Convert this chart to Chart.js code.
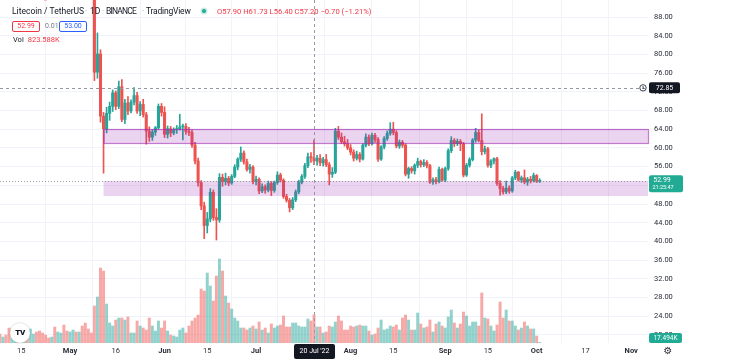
<!DOCTYPE html>
<html>
<head>
<meta charset="utf-8">
<script src="https://cdn.jsdelivr.net/npm/chart.js@4.4.1/dist/chart.umd.min.js"></script>
<style>
  body { margin: 0; background: #fff; }
  #wrap { position: relative; width: 730px; height: 361px; font-family: Roboto, "Noto Sans", sans-serif; overflow: hidden; }
  canvas { position: absolute; left: 0; top: 0; }
  .t { position: absolute; white-space: nowrap; top: 6px; font-size: 8.5px; line-height: 10px; color: #131722; }
  .sep { position: absolute; top: 6px; font-size: 8px; line-height: 10px; color: #9598a1; }
  .dot { position: absolute; left: 202px; top: 9px; width: 4px; height: 4px; border-radius: 50%; background: #22ab94; box-shadow: 0 0 0 1.5px rgba(34,171,148,0.25); }
  .ohlc { position: absolute; left: 217px; top: 7px; white-space: nowrap; color: #f23645; font-size: 7.6px; line-height: 9px; }
  .box { position: absolute; top: 21px; height: 9px; font-size: 7px; line-height: 9px; text-align: center; border-radius: 2px; }
  .vol { position: absolute; left: 13px; top: 35px; white-space: nowrap; color: #131722; font-size: 7.5px; line-height: 10px; }
  .vol span { color: #f23645; margin-left: 4px; }
  #logo { position: absolute; left: 10px; top: 323px; width: 20px; height: 20px; border-radius: 50%; background: #fff; box-shadow: 0 0 2px rgba(0,0,0,0.25); font: 900 8px/20px Roboto, sans-serif; text-align: center; color: #131722; letter-spacing: -0.5px; }
</style>
</head>
<body>
<div id="wrap">
  <canvas id="myChart" width="730" height="361"></canvas>
  <div class="t" style="left:12px;">Litecoin / TetherUS</div>
  <div class="sep" style="left:85px;">·</div>
  <div class="t" style="left:90px;">1D</div>
  <div class="sep" style="left:102px;">·</div>
  <div class="t" style="left:106px;letter-spacing:-0.8px;">BINANCE</div>
  <div class="sep" style="left:142px;">·</div>
  <div class="t" style="left:146px;letter-spacing:-0.2px;">TradingView</div>
  <div class="dot"></div>
  <div class="ohlc">O57.90 H61.73 L56.40 C57.20 −0.70 (−1.21%)</div>
  <div class="box" style="left:12px;width:26px;border:1px solid #f23645;color:#f23645;">52.99</div>
  <div class="vol" style="left:45px;top:21px;font-size:7px;color:#787b86;">0.01</div>
  <div class="box" style="left:59px;width:26px;border:1px solid #2962ff;color:#2962ff;">53.00</div>
  <div class="vol">Vol<span>823.588K</span></div>
  <div id="logo">TV</div>
</div>
<script>
// LTCUSDT daily, 2022-04-08 .. 2022-10-02 (one entry per day)
const firstDate = "2022-04-08";

const open = [
  118.5, 114.6, 116.4, 113.1, 105.0, 106.9, 111.2, 108.1, 108.9, 109.4,
  105.8, 107.6, 109.3, 108.2, 104.9, 102.3, 102.2, 101.5, 103.4, 96.8,
  99.6, 101.4, 97.9, 95.1, 98.2, 98.8, 96.7, 104.1, 98.6, 97.2, 95.3,
  93.6, 76.2, 80.1, 66.8, 64.1, 67.4, 68.9, 71.8, 68.9, 73.1,
  66.1, 69.6, 67.9, 69.8, 71.2, 67.9, 69.3, 67.1, 63.6, 62.3,
  63.4, 64.3, 68.9, 67.6, 62.9, 64.1, 63.2, 63.9, 64.0, 64.5,
  64.6, 63.5, 63.3, 60.6, 57.2, 52.6, 47.6, 43.4, 44.8, 50.5,
  45.1, 44.6, 53.7, 52.8, 53.5, 52.5, 53.9, 55.9, 57.6, 58.9,
  57.0, 55.4, 55.9, 52.8, 53.3, 50.8, 51.7, 51.0, 52.4, 50.9,
  52.6, 54.2, 53.1, 49.6, 48.8, 47.2, 48.9, 50.6, 52.7, 53.9,
  56.2, 58.1, 57.9, 57.2, 57.8, 56.8, 57.5, 56.4, 54.4, 54.8,
  63.6, 62.3, 61.3, 60.9, 60.0, 59.1, 57.8, 58.6, 57.6, 60.6,
  62.3, 60.9, 62.7, 61.8, 57.6, 60.2, 62.0, 63.1, 64.0, 63.3,
  60.4, 61.2, 60.6, 54.4, 55.6, 55.1, 56.3, 57.1, 56.4, 56.9,
  56.2, 52.7, 53.2, 52.8, 55.4, 53.1, 55.6, 59.4, 61.6, 60.9,
  61.4, 60.9, 54.2, 56.3, 57.5, 61.7, 63.3, 61.6, 59.2, 59.8,
  56.3, 57.2, 57.7, 52.4, 51.3, 50.6, 51.4, 50.8, 53.6, 54.8,
  53.1, 53.6, 52.7, 53.3, 53.0, 54.1, 52.85
];
const high = [
  119.6, 117.0, 117.8, 113.6, 108.9, 111.7, 112.2, 109.6, 110.1, 110.0,
  108.2, 109.9, 112.0, 111.8, 105.6, 103.7, 103.9, 103.8, 104.4, 100.3,
  102.6, 102.0, 99.1, 98.7, 100.0, 99.4, 104.6, 104.8, 99.5, 98.0, 96.0,
  94.8, 84.6, 81.0, 67.6, 68.7, 69.8, 72.4, 72.2, 74.3, 74.6,
  70.4, 71.0, 70.3, 72.9, 71.9, 69.9, 70.4, 67.6, 64.5, 63.9,
  64.6, 69.4, 69.5, 68.8, 64.7, 64.6, 64.3, 64.8, 67.2, 65.1,
  65.2, 64.4, 63.8, 61.2, 57.8, 53.0, 48.4, 46.2, 51.3, 51.0,
  47.0, 54.5, 54.4, 54.6, 53.9, 54.3, 56.4, 57.9, 60.2, 59.4,
  57.6, 56.5, 56.2, 54.0, 53.6, 52.3, 52.1, 52.9, 52.8, 52.9,
  54.9, 54.6, 53.4, 50.1, 49.2, 49.4, 51.0, 53.1, 54.3, 56.7,
  58.9, 59.0, 61.73, 58.4, 58.6, 58.0, 58.6, 56.9, 55.8, 64.2,
  64.6, 63.2, 62.5, 61.8, 60.7, 59.6, 59.3, 59.0, 60.9, 63.0,
  62.8, 63.2, 63.1, 62.2, 60.5, 62.4, 63.6, 65.4, 65.5, 63.7,
  61.7, 61.6, 60.9, 55.9, 56.0, 56.6, 57.8, 57.4, 57.5, 57.3,
  56.5, 53.6, 53.7, 55.9, 55.7, 55.9, 59.8, 62.4, 62.0, 61.9,
  61.8, 61.2, 56.7, 57.9, 62.0, 64.2, 63.8, 67.3, 60.4, 60.1,
  57.5, 57.9, 58.0, 53.0, 51.8, 52.9, 51.9, 53.9, 55.2, 55.0,
  54.0, 55.3, 53.7, 53.9, 54.6, 54.3, 53.4
];
const low = [
  113.9, 113.8, 112.6, 104.2, 104.1, 105.6, 107.4, 107.2, 107.8, 105.3,
  101.9, 106.3, 107.5, 104.0, 101.5, 101.6, 100.8, 97.9, 96.2, 96.0,
  98.4, 97.1, 94.8, 94.6, 96.9, 96.2, 96.4, 97.1, 95.4, 94.3, 92.3,
  74.4, 74.9, 65.5, 54.6, 63.2, 65.9, 67.8, 68.2, 68.4, 65.6,
  65.2, 67.1, 67.5, 69.2, 67.4, 66.9, 66.6, 60.8, 61.4, 61.6,
  62.7, 64.0, 66.8, 62.2, 62.1, 62.4, 62.8, 63.1, 63.8, 61.7,
  62.9, 62.6, 60.1, 56.6, 51.8, 46.8, 40.6, 41.8, 44.2, 44.5,
  40.3, 44.1, 51.8, 52.1, 51.9, 52.2, 53.6, 55.3, 57.1, 56.5,
  55.0, 54.6, 52.3, 52.1, 50.2, 50.4, 50.3, 50.6, 49.8, 50.5,
  52.2, 52.7, 49.2, 48.4, 46.3, 46.8, 48.5, 50.2, 52.3, 53.5,
  55.8, 56.9, 56.4, 56.3, 56.2, 56.1, 56.0, 52.1, 53.7, 54.5,
  61.8, 60.9, 60.4, 59.6, 58.5, 57.2, 57.4, 57.0, 57.4, 60.2,
  60.5, 60.6, 61.2, 57.1, 57.3, 59.8, 61.6, 62.7, 62.8, 60.0,
  59.9, 60.1, 54.0, 53.5, 54.6, 54.4, 55.8, 55.9, 56.0, 55.7,
  52.4, 52.2, 52.3, 52.5, 52.9, 52.8, 55.2, 59.0, 60.3, 60.5,
  59.4, 53.8, 53.9, 55.9, 57.2, 61.2, 61.3, 58.5, 58.7, 55.9,
  55.8, 56.6, 52.0, 49.9, 50.1, 50.2, 50.3, 50.5, 53.2, 52.9,
  52.6, 52.3, 52.0, 52.5, 52.7, 52.6, 52.6
];
const close = [
  114.6, 116.4, 113.1, 105.0, 106.9, 111.2, 108.1, 108.9, 109.4, 105.8,
  107.6, 109.3, 108.2, 104.9, 102.3, 102.2, 101.5, 103.4, 96.8, 99.6,
  101.4, 97.9, 95.1, 98.2, 98.8, 96.7, 104.1, 98.6, 97.2, 95.3, 93.6,
  76.2, 80.1, 66.8, 64.1, 67.4, 68.9, 71.8, 68.9, 73.1, 66.1,
  69.6, 67.9, 69.8, 71.2, 67.9, 69.3, 67.1, 63.6, 62.3, 63.4,
  64.3, 68.9, 67.6, 62.9, 64.1, 63.2, 63.9, 64.0, 64.5, 64.6,
  63.5, 63.3, 60.6, 57.2, 52.6, 47.6, 43.4, 44.8, 50.5, 45.1,
  44.6, 53.7, 52.8, 53.5, 52.5, 53.9, 55.9, 57.6, 58.9, 57.0,
  55.4, 55.9, 52.8, 53.3, 50.8, 51.7, 51.0, 52.4, 50.9, 52.6,
  54.2, 53.1, 49.6, 48.8, 47.2, 48.9, 50.6, 52.7, 53.9, 56.2,
  58.1, 57.9, 57.2, 57.8, 56.8, 57.5, 56.4, 54.4, 54.8, 63.6,
  62.3, 61.3, 60.9, 60.0, 59.1, 57.8, 58.6, 57.6, 60.6, 62.3,
  60.9, 62.7, 61.8, 57.6, 60.2, 62.0, 63.1, 64.0, 63.3, 60.4,
  61.2, 60.6, 54.4, 55.6, 55.1, 56.3, 57.1, 56.4, 56.9, 56.2,
  52.7, 53.2, 52.8, 55.4, 53.1, 55.6, 59.4, 61.6, 60.9, 61.4,
  60.9, 54.2, 56.3, 57.5, 61.7, 63.3, 61.6, 59.2, 59.8, 56.3,
  57.2, 57.7, 52.4, 51.3, 50.6, 51.4, 50.8, 53.6, 54.8, 53.1,
  53.6, 52.7, 53.3, 53.0, 54.1, 52.85, 52.99
];
// volume in thousands of LTC
const volume = [
  265, 176, 235, 441, 412, 206, 235, 176, 176, 235,
  412, 265, 324, 353, 294, 235, 147, 176, 471, 324,
  294, 529, 353, 324, 382, 324, 324, 500, 588, 412, 294,
  1088, 1353, 2206, 2118, 1147, 588, 500, 676, 735, 735,
  676, 765, 294, 294, 647, 500, 441, 382, 735, 500,
  353, 647, 441, 647, 353, 235, 206, 176, 382, 441,
  294, 500, 647, 735, 824, 1588, 1529, 2059, 1676, 1235,
  1970, 2470, 2118, 1382, 1176, 1000, 735, 647, 441, 441,
  382, 441, 500, 412, 618, 382, 441, 294, 559, 441,
  500, 529, 794, 471, 471, 588, 588, 500, 471, 471,
  706, 647, 823.588, 471, 471, 294, 324, 500, 471, 618,
  794, 647, 382, 382, 500, 471, 500, 529, 500, 500,
  353, 235, 265, 441, 676, 382, 412, 500, 471, 529,
  382, 735, 824, 676, 382, 382, 882, 559, 441, 471,
  676, 324, 559, 618, 500, 441, 765, 971, 588, 441,
  559, 912, 794, 500, 618, 618, 500, 1471, 735, 706,
  500, 353, 529, 1206, 735, 971, 647, 647, 500, 382,
  441, 618, 500, 412, 412, 206, 17.494
];

const tickDates = ["2022-04-15", "2022-05-01", "2022-05-16", "2022-06-01", "2022-06-15", "2022-07-01", "2022-07-15",
  "2022-08-01", "2022-08-15", "2022-09-01", "2022-09-15", "2022-10-01", "2022-10-17", "2022-11-01"];
const tickLabels = ["15", "May", "16", "Jun", "15", "Jul", "15", "Aug", "15", "Sep", "15", "Oct", "17", "Nov"];
const priceTicks = [20, 24, 28, 32, 36, 40, 44, 48, 52, 56, 60, 64, 68, 72, 76, 80, 84, 88];

// drawn rectangles (price zones)
const zoneFrom = ["2022-05-12", "2022-05-12"];
const zoneTop = [64.04, 52.92];
const zoneBottom = [61.0, 49.7];

const crossDate = "2022-07-20";
const crossPrice = 72.85;
const lastPrice = 52.99;

const UP = "#26a69a";
const DOWN = "#ef5350";

let dayOf = (s) => Math.round((Date.parse(s) - Date.parse(firstDate)) / 864e5);
let monthNames = ["May", "Jun", "Jul", "Aug", "Sep", "Oct", "Nov"];

let candleColors = close.map((c, i) => c >= open[i] ? UP : DOWN);
let volColors = close.map((c, i) => c >= open[i] ? "rgba(38,166,154,0.5)" : "rgba(239,83,80,0.5)");

let tag = (ctx, x, y, w, h, bg) => {
  ctx.fillStyle = bg;
  ctx.beginPath();
  ctx.roundRect(x, y, w, h, 2);
  ctx.fill();
};

let drawings = {
  id: "drawings",
  afterDatasetsDraw(chart) {
    let { ctx, chartArea: a, scales: { x, y } } = chart;
    ctx.save();
    zoneTop.forEach((top, i) => {
      let x0 = x.getPixelForValue(dayOf(zoneFrom[i]));
      let y0 = y.getPixelForValue(top);
      let y1 = y.getPixelForValue(zoneBottom[i]);
      ctx.fillStyle = "rgba(156,39,176,0.2)";
      ctx.fillRect(x0, y0, a.right - x0, y1 - y0);
      if (i === 0) {
        ctx.strokeStyle = "rgba(156,39,176,0.6)";
        ctx.lineWidth = 1.2;
        ctx.strokeRect(x0 + 0.5, Math.round(y0) + 0.5, a.right - x0, Math.round(y1 - y0));
      }
    });

    // last price line
    let py = Math.round(y.getPixelForValue(lastPrice)) + 0.5;
    ctx.strokeStyle = "rgba(120,123,134,0.7)";
    ctx.lineWidth = 1;
    ctx.setLineDash([1, 2]);
    ctx.beginPath();
    ctx.moveTo(a.left, py);
    ctx.lineTo(a.right, py);
    ctx.stroke();

    // crosshair
    let cx = Math.round(x.getPixelForValue(dayOf(crossDate))) + 0.5;
    let cy = Math.round(y.getPixelForValue(crossPrice)) + 0.5;
    ctx.strokeStyle = "#9598a1";
    ctx.setLineDash([3, 3]);
    ctx.beginPath();
    ctx.moveTo(cx, a.top);
    ctx.lineTo(cx, a.bottom);
    ctx.moveTo(a.left, cy);
    ctx.lineTo(a.right, cy);
    ctx.stroke();
    ctx.restore();
  },
  afterDraw(chart) {
    let { ctx, chartArea: a, scales: { x, y, yv } } = chart;
    ctx.save();
    ctx.textBaseline = "middle";
    ctx.textAlign = "center";

    let cy = y.getPixelForValue(crossPrice);
    tag(ctx, a.right + 1, cy - 5.5, 31, 11, "#131722");
    ctx.fillStyle = "#fff";
    ctx.font = "7px Roboto";
    ctx.fillText(crossPrice.toFixed(2), a.right + 16.5, cy + 0.5);
    ctx.strokeStyle = "#131722";
    ctx.lineWidth = 0.8;
    ctx.beginPath();
    ctx.arc(a.right - 5, cy, 3.2, 0, Math.PI * 2);
    ctx.moveTo(a.right - 5, cy - 1.8);
    ctx.lineTo(a.right - 5, cy);
    ctx.lineTo(a.right - 3.8, cy + 0.8);
    ctx.stroke();

    let py = y.getPixelForValue(lastPrice);
    tag(ctx, a.right + 1, py - 5.5, 34, 17, "#22ab94");
    ctx.fillStyle = "#fff";
    ctx.font = "7px Roboto";
    ctx.fillText(lastPrice.toFixed(2), a.right + 14, py);
    ctx.font = "5.5px Roboto";
    ctx.fillText("21:25:47", a.right + 15, py + 7);

    let vy = Math.min(yv.getPixelForValue(volume[volume.length - 1]), a.bottom - 5);
    tag(ctx, a.right + 1, vy - 5, 33, 10, "#22ab94");
    ctx.fillStyle = "#fff";
    ctx.font = "6.5px Roboto";
    ctx.fillText(volume[volume.length - 1].toFixed(3) + "K", a.right + 17.5, vy + 0.5);

    let cx = x.getPixelForValue(dayOf(crossDate));
    tag(ctx, cx - 20, a.bottom + 1, 41, 15, "#131722");
    ctx.fillStyle = "#fff";
    ctx.font = "7px Roboto";
    ctx.fillText("20 Jul '22", cx + 0.5, a.bottom + 8.5);

    ctx.fillStyle = "#2a2e39";
    ctx.font = "10px 'DejaVu Sans'";
    ctx.fillText("⚙", 668, 351);
    ctx.restore();
  }
};

let ctx = document.getElementById("myChart");

let myChart = new Chart(ctx, {
  type: "bar",
  data: {
    datasets: [
      {
        label: "Volume",
        yAxisID: "yv",
        data: volume.map((v, i) => ({ x: i, y: v })),
        backgroundColor: volColors,
        barThickness: 2.3,
        grouped: false,
        order: 3
      },
      {
        label: "Wick",
        yAxisID: "y",
        data: low.map((l, i) => ({ x: i, y: [l, high[i]] })),
        backgroundColor: candleColors,
        barThickness: 1,
        grouped: false,
        order: 2
      },
      {
        label: "Body",
        yAxisID: "y",
        data: open.map((o, i) => ({ x: i, y: [o, close[i]] })),
        backgroundColor: candleColors,
        barThickness: 2.4,
        minBarLength: 1,
        grouped: false,
        order: 1
      }
    ]
  },
  options: {
    responsive: false,
    animation: false,
    events: [],
    layout: { padding: 0 },
    plugins: { legend: { display: false }, tooltip: { enabled: false } },
    scales: {
      x: {
        type: "linear",
        min: 0.05,
        max: 212.5,
        offset: false,
        grid: { color: "#f0f3fa", drawTicks: false },
        border: { display: false },
        afterBuildTicks: (s) => { s.ticks = tickDates.map(d => ({ value: dayOf(d) })); },
        afterFit: (s) => { s.height = 18; s.paddingLeft = 0; s.paddingRight = 0; },
        ticks: {
          autoSkip: false,
          maxRotation: 0,
          padding: 4,
          color: "#2a2e39",
          font: (c) => ({ family: "Roboto", size: 7.5, weight: monthNames.includes(tickLabels[c.index]) ? "bold" : "normal" }),
          callback: (v, i) => tickLabels[i]
        }
      },
      y: {
        position: "right",
        min: 18.27,
        max: 91.64,
        grid: { color: "#f0f3fa", drawTicks: false },
        border: { display: false },
        afterBuildTicks: (s) => { s.ticks = priceTicks.map(v => ({ value: v })); },
        afterFit: (s) => { s.width = 82; s.paddingTop = 0; s.paddingBottom = 0; },
        ticks: {
          padding: 6,
          color: "#2a2e39",
          font: { family: "Roboto", size: 7.5 },
          callback: (v) => v.toFixed(2)
        }
      },
      yv: { display: false, min: 0, max: 10090 }
    }
  },
  plugins: [drawings]
});
</script>
</body>
</html>
